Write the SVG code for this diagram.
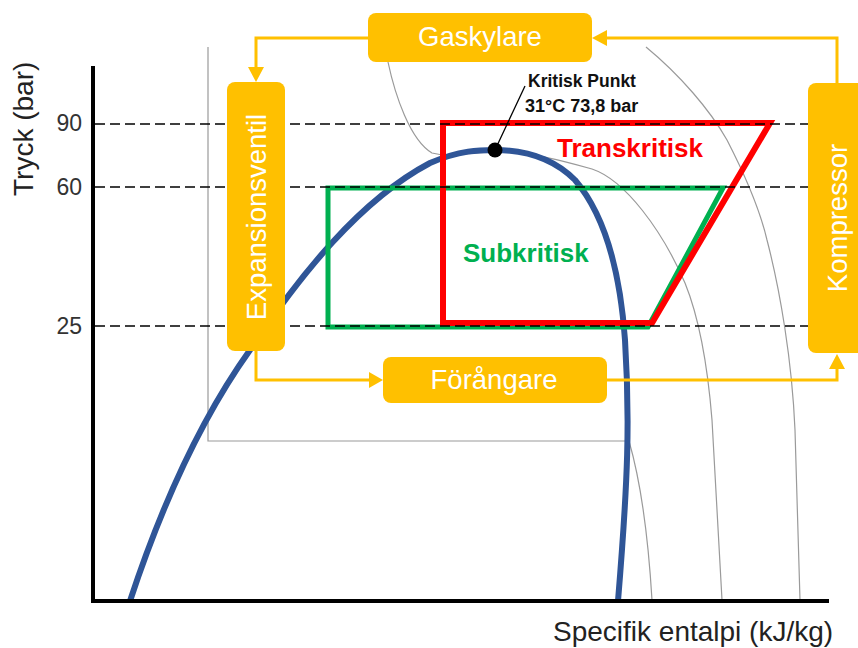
<svg xmlns="http://www.w3.org/2000/svg" width="858" height="648" viewBox="0 0 858 648">
<style>
.box{fill:#FFC000}
.lbl{font-family:"Liberation Sans",Arial,sans-serif;font-size:27.5px;fill:#FFFFFF;text-anchor:middle}
.conn{fill:none;stroke:#FFC000;stroke-width:3}
.head{fill:#FFC000}
.gray{fill:none;stroke:#9A9A9A;stroke-width:1.2}
.dash{fill:none;stroke:#000;stroke-width:1.3;stroke-dasharray:10 5}
.axis{fill:none;stroke:#000;stroke-width:4}
.tick{font-family:"Liberation Sans",Arial,sans-serif;font-size:23px;fill:#333;text-anchor:end}
.title{font-family:"Liberation Sans",Arial,sans-serif;font-size:28px;fill:#222}
.bold{font-family:"Liberation Sans",Arial,sans-serif;font-weight:bold}
</style>
<rect width="858" height="648" fill="#FFFFFF"/>

<g id="chart">
  <!-- isotherms -->
  <path class="gray" d="M208,47 L208,441 L629,441 Q646,500 652,600"/>
  <path class="gray" d="M388,62 C395,95 410,140 432,153 C450,158 470,152 495,152 C530,152 560,160 592,169 C625,180 662,230 685,283 C700,320 708,370 712,420 L722,600"/>
  <path class="gray" d="M646,47 C680,75 710,110 727,140 C745,175 760,210 767,240 C780,290 792,360 795,430 L800,600"/>
  <!-- saturation dome -->
  <path d="M130,601 C160,510 200,420 250,350 C300,275 360,200 430,163 C460,150 480,150 495,150 C530,150 555,160 575,180 C605,215 620,270 625,340 C630,420 628,480 618,601" fill="none" stroke="#2F5597" stroke-width="6"/>
  <!-- subcritical cycle -->
  <path d="M328,188 L723,188 L648,327 L328,327 Z" fill="none" stroke="#00B050" stroke-width="5"/>
  <!-- transcritical cycle -->
  <path d="M443,123 L770,123 L652,323 L443,323 Z" fill="none" stroke="#FF0000" stroke-width="6"/>
  <!-- pressure levels -->
  <line class="dash" x1="95" y1="124" x2="808" y2="124"/>
  <line class="dash" x1="95" y1="187" x2="808" y2="187"/>
  <line class="dash" x1="95" y1="326" x2="808" y2="326"/>
  <!-- axes -->
  <line class="axis" x1="93" y1="66" x2="93" y2="603"/>
  <line class="axis" x1="91" y1="601" x2="829" y2="601"/>
  <text class="tick" x="82" y="131">90</text>
  <text class="tick" x="82" y="195">60</text>
  <text class="tick" x="82" y="334">25</text>
  <text class="title" transform="translate(33,196) rotate(-90)">Tryck (bar)</text>
  <text class="title" x="553" y="641">Specifik entalpi (kJ/kg)</text>
  <!-- critical point -->
  <line x1="495" y1="150" x2="525" y2="86" stroke="#000" stroke-width="1.3"/>
  <circle cx="495" cy="150" r="7.5" fill="#000"/>
  <text class="bold" x="528" y="87" font-size="17.5" fill="#111">Kritisk Punkt</text>
  <text class="bold" x="525" y="112" font-size="18" fill="#111">31°C 73,8 bar</text>
  <text class="bold" x="557" y="157" font-size="26" fill="#FF0000">Transkritisk</text>
  <text class="bold" x="463" y="262" font-size="26" fill="#00B050">Subkritisk</text>
</g>

<g id="connectors">
  <path class="conn" d="M368,38 L256,38 L256,68"/>
  <polygon class="head" points="248,67 264,67 256,82"/>
  <path class="conn" d="M837,83 L837,38 L606,38"/>
  <polygon class="head" points="607,30 607,46 592,38"/>
  <path class="conn" d="M256,351 L256,380 L370,380"/>
  <polygon class="head" points="369,372 369,388 383,380"/>
  <path class="conn" d="M607,380 L837,380 L837,369"/>
  <polygon class="head" points="829,369 845,369 837,354"/>
</g>

<g id="gaskylare">
  <rect class="box" x="368" y="13" width="224" height="49" rx="8"/>
  <text class="lbl" x="480" y="46">Gaskylare</text>
</g>
<g id="expansionsventil">
  <rect class="box" x="227" y="82" width="58" height="269" rx="8"/>
  <text class="lbl" transform="translate(266,217) rotate(-90)">Expansionsventil</text>
</g>
<g id="kompressor">
  <rect class="box" x="808" y="83" width="60" height="270" rx="8"/>
  <text class="lbl" transform="translate(847,218) rotate(-90)">Kompressor</text>
</g>
<g id="forangare">
  <rect class="box" x="383" y="357" width="224" height="46" rx="8"/>
  <text class="lbl" x="494" y="389">Förångare</text>
</g>
</svg>
